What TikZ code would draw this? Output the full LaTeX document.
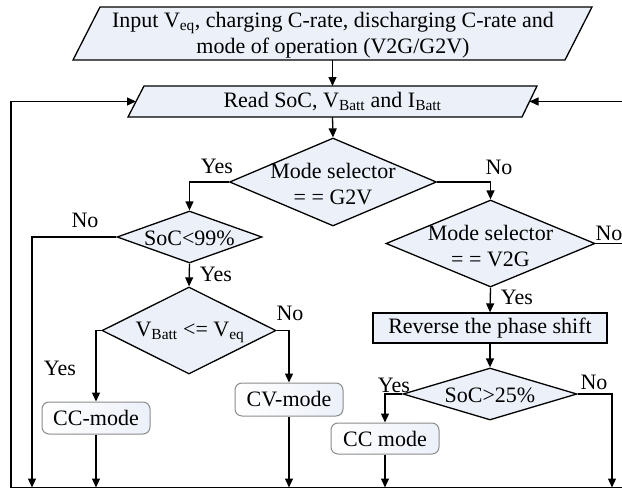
\documentclass[tikz,border=0pt]{standalone}
\usepackage{fontspec}
\setmainfont{Liberation Serif}
\usetikzlibrary{shapes.geometric,arrows.meta}
\definecolor{boxfill}{RGB}{236,240,249}
\definecolor{rborder}{RGB}{140,140,140}
\tikzset{
  txt/.style={font=\fontsize{22}{25.5}\selectfont, inner sep=0pt, align=center},
  ln/.style={line width=1.3pt},
  arr/.style={line width=1.3pt, -{Triangle[length=9pt,width=8pt]}},
  dia/.style={diamond, draw, line width=1.3pt, fill=boxfill, inner sep=0pt},
  para/.style={draw, line width=1.3pt, fill=boxfill},
  rbox/.style={draw=rborder, line width=1pt, rounded corners=7pt, left color=white, right color=boxfill, inner sep=0pt},
  sbox/.style={draw, line width=1.3pt, fill=boxfill, inner sep=0pt},
}
\begin{document}
\begin{tikzpicture}[x=1pt,y=-1pt]
\useasboundingbox (0,0) rectangle (622,490);
% parallelograms
\coordinate (inBL) at (73,60); \coordinate (inTL) at (100,7);
\coordinate (inTR) at (592,7); \coordinate (inBR) at (565,60);
\filldraw[para] (inBL) -- (inTL) -- (inTR) -- (inBR) -- cycle;
\node[txt] (input) at (333,35) {Input V\textsubscript{eq}, charging C-rate, discharging C-rate and\\mode of operation (V2G/G2V)};
\coordinate (inS) at (332.5,60);
\coordinate (rdBL) at (128,117); \coordinate (rdTL) at (144,86);
\coordinate (rdTR) at (537,86); \coordinate (rdBR) at (522,117);
\filldraw[para] (rdBL) -- (rdTL) -- (rdTR) -- (rdBR) -- cycle;
\node[txt] (read) at (332.5,101.5) {Read SoC, V\textsubscript{Batt} and I\textsubscript{Batt}};
\coordinate (rdN) at (332.5,86); \coordinate (rdS) at (332.5,117);
\coordinate (rdL) at (136,101.5); \coordinate (rdR) at (529.5,101.5);
% diamonds
\node[dia, minimum width=207pt, minimum height=88pt] (g2v) at (333,182) {};
\node[txt] (g2vt) at (333,184) {Mode selector\\= = G2V};
\node[dia, minimum width=145pt, minimum height=52pt] (soc99) at (189.5,237) {};
\node[txt] (soc99t) at (189.5,238) {SoC<99\%};
\node[dia, minimum width=174pt, minimum height=87pt] (vbatt) at (189,330.5) {};
\node[txt] (vbattt) at (190,332) {V\textsubscript{Batt} <= V\textsubscript{eq}};
\node[dia, minimum width=209pt, minimum height=87pt] (v2g) at (490.5,243.5) {};
\node[txt] (v2gt) at (490.5,246) {Mode selector\\= = V2G};
\node[dia, minimum width=174pt, minimum height=52pt] (soc25) at (490,394) {};
\node[txt] (soc25t) at (490,395) {SoC>25\%};
% boxes
\node[sbox, minimum width=234pt, minimum height=30pt] (rev) at (490,328) {};
\node[txt] (revt) at (490,328) {Reverse the phase shift};
\node[rbox, minimum width=108pt, minimum height=32pt] (cc1) at (96,418) {};
\node[txt] (cc1t) at (96,418) {CC-mode};
\node[rbox, minimum width=108pt, minimum height=33pt] (cv) at (289,399.5) {};
\node[txt] (cvt) at (289,399.5) {CV-mode};
\node[rbox, minimum width=108pt, minimum height=31pt] (cc2) at (385,438.5) {};
\node[txt] (cc2t) at (385,438.5) {CC mode};
% bottom bus
\coordinate (botL) at (11,487.5); \coordinate (botR) at (622,487.5);
\coordinate (noL) at (32,487.5); \coordinate (noR) at (612,487.5);
\coordinate (v2gNo) at (622,243.5); \coordinate (topR) at (622,101.5);
\coordinate (topL) at (11,101.5);
\draw[ln] (botL) -- (botR);
% connectors
\draw[arr] (inS) -- (rdN);
\draw[arr] (rdS) -- (g2v.north);
\draw[arr] (botL) -- (topL) -- (rdL);
\draw[arr] (topR) -- (rdR);
\draw[arr] (g2v.west) -| (soc99.north);
\draw[arr] (g2v.east) -| (v2g.north);
\draw[arr] (soc99.west) -| (noL);
\draw[arr] (soc99.south) -- (vbatt.north);
\draw[arr] (vbatt.west) -| (cc1.north);
\draw[arr] (vbatt.east) -| (cv.north);
\draw[arr] (cc1.south) -- (cc1.south |- botL);
\draw[arr] (cv.south) -- (cv.south |- botL);
\draw[ln] (v2g.east) -- (v2gNo);
\draw[arr] (v2g.south) -- (rev.north);
\draw[arr] (rev.south) -- (soc25.north);
\draw[arr] (soc25.west) -| (cc2.north);
\draw[arr] (soc25.east) -| (noR);
\draw[arr] (cc2.south) -- (cc2.south |- botL);
% labels
\node[txt] (l1) at (217,166) {Yes};
\node[txt] (l2) at (85,220) {No};
\node[txt] (l3) at (216,274) {Yes};
\node[txt] (l4) at (290,313) {No};
\node[txt] (l5) at (60,368) {Yes};
\node[txt] (l6) at (499,167) {No};
\node[txt] (l7) at (609,233) {No};
\node[txt] (l8) at (517,297) {Yes};
\node[txt] (l9) at (394,385) {Yes};
\node[txt] (l10) at (594,382) {No};
\end{tikzpicture}
\end{document}
